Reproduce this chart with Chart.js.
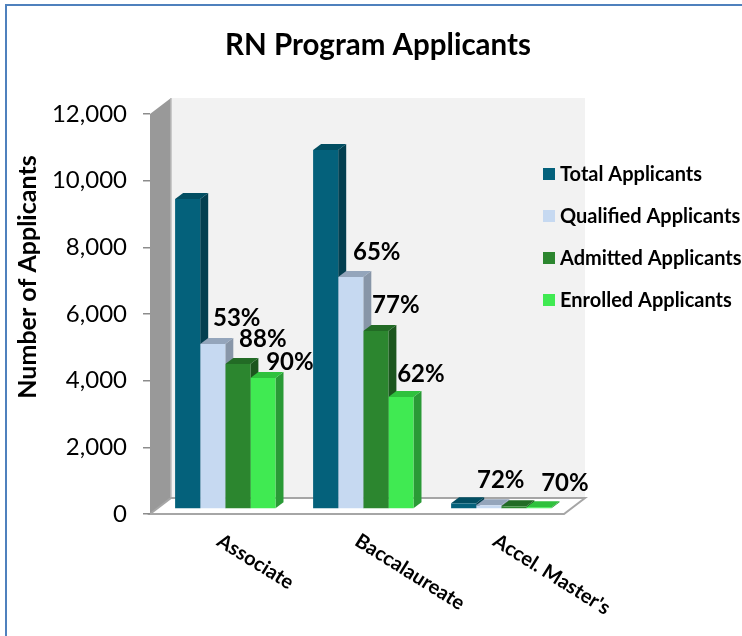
<!DOCTYPE html>
<html>
<head>
  <title>RN Program Applicants</title>
  <style>
      html, body { margin: 0; padding: 0; background: #fff; }
      canvas { display: block; }
  </style>
</head>
<body>
  <canvas id="applicantsChart" width="742" height="636"></canvas>
  <script src="https://cdn.jsdelivr.net/npm/chart.js"></script>
  <script>
      const categories = ['Associate', 'Baccalaureate', "Accel. Master's"];
      const totalApplicants = [9300, 10770, 170];
      const qualifiedApplicants = [4950, 6960, 110];
      const admittedApplicants = [4350, 5340, 80];
      const enrolledApplicants = [3930, 3360, 55];
      const qualifiedPct = ['53%', '65%', '72%'];
      const admittedPct = ['88%', '77%', null];
      const enrolledPct = ['90%', '62%', '70%'];

      const fontName = 'Lato, sans-serif';
      // bars sit a little behind the front axis
      const barShiftX = 6.3, barShiftY = -5;
      const depthX = 8, depthY = 6;
      // wall geometry follows the scale, wall is pushed back by this much
      const wallX = 21, wallY = 16;

      // colours: front, top, side
      const shades = [
          ['#04617b', '#024e62', '#033f50'],
          ['#c6d9f1', '#94a5bb', '#8896a8'],
          ['#2c862f', '#226b25', '#1c561e'],
          ['#40ea52', '#2fc13d', '#2a9a36']
      ];

      // how far each percent label sits from the top of its bar
      const pctOffsets = {
          1: [[24, -26], [26, -25], [12, -25]],
          2: [[25, -25], [20, -26], [0, 0]],
          3: [[27, -16], [20, -23], [26, -24]]
      };
      const pctTexts = { 1: qualifiedPct, 2: admittedPct, 3: enrolledPct };

      function poly(ctx, pts, color) {
          ctx.fillStyle = color;
          ctx.beginPath();
          pts.forEach((p, i) => i ? ctx.lineTo(p[0], p[1]) : ctx.moveTo(p[0], p[1]));
          ctx.closePath();
          ctx.fill();
      }

      const scenePlugin = {
          id: 'scene',
          beforeDraw(chart) {
              const { ctx, chartArea: a } = chart;
              ctx.save();
              // frame
              ctx.strokeStyle = '#4f81bd';
              ctx.lineWidth = 2;
              ctx.beginPath();
              ctx.moveTo(6, 636);
              ctx.lineTo(6, 5);
              ctx.lineTo(742, 5);
              ctx.stroke();
              // back wall
              poly(ctx, [[a.left + wallX, a.top - wallY], [a.right + wallX, a.top - wallY],
                  [a.right + wallX, a.bottom - wallY], [a.left + wallX, a.bottom - wallY]], '#f2f2f2');
              // side wall
              poly(ctx, [[a.left, a.top], [a.left + wallX, a.top - wallY],
                  [a.left + wallX, a.bottom - wallY], [a.left, a.bottom]], '#999999');
              ctx.strokeStyle = '#bdbdbd';
              ctx.lineWidth = 1.5;
              ctx.beginPath();
              ctx.moveTo(a.left + wallX, a.top - wallY);
              ctx.lineTo(a.left + wallX, a.bottom - wallY);
              ctx.stroke();
              // floor
              poly(ctx, [[a.left, a.bottom], [a.left + wallX, a.bottom - wallY],
                  [a.right + wallX, a.bottom - wallY], [a.right, a.bottom]], '#ffffff');
              ctx.strokeStyle = '#a6a6a6';
              ctx.lineWidth = 2;
              ctx.beginPath();
              ctx.moveTo(a.left, a.bottom);
              ctx.lineTo(a.left + wallX, a.bottom - wallY);
              ctx.lineTo(a.right + wallX, a.bottom - wallY);
              ctx.lineTo(a.right, a.bottom);
              ctx.closePath();
              ctx.stroke();
              ctx.restore();
          },
          beforeDatasetsDraw(chart) {
              const ctx = chart.ctx;
              ctx.save();
              ctx.translate(barShiftX, barShiftY);
              // sides and tops first, the fronts from the library then cover them
              categories.forEach((c, i) => {
                  chart.data.datasets.forEach((ds, d) => {
                      const bar = chart.getDatasetMeta(d).data[i];
                      const l = bar.x - bar.width / 2, r = bar.x + bar.width / 2;
                      poly(ctx, [[r, bar.y], [r + depthX, bar.y - depthY],
                          [r + depthX, bar.base - depthY], [r, bar.base]], shades[d][2]);
                      poly(ctx, [[l, bar.y], [l + depthX, bar.y - depthY],
                          [r + depthX, bar.y - depthY], [r, bar.y]], shades[d][1]);
                  });
              });
          },
          afterDatasetsDraw(chart) {
              const ctx = chart.ctx;
              ctx.restore();
              ctx.save();
              ctx.fillStyle = '#000';
              ctx.textBaseline = 'middle';

              // percent labels
              ctx.font = 'bold 24px ' + fontName;
              ctx.textAlign = 'center';
              Object.keys(pctTexts).forEach(d => {
                  pctTexts[d].forEach((txt, i) => {
                      if (!txt) return;
                      const bar = chart.getDatasetMeta(d).data[i];
                      ctx.fillText(txt, bar.x + barShiftX + pctOffsets[d][i][0], bar.y + barShiftY + pctOffsets[d][i][1]);
                  });
              });

              // title
              ctx.font = 'bold 29.5px ' + fontName;
              ctx.fillText('RN Program Applicants', 378, 45);

              // y axis title
              ctx.save();
              ctx.translate(28, 277);
              ctx.rotate(-Math.PI / 2);
              ctx.font = 'bold 25px ' + fontName;
              ctx.fillText('Number of Applicants', 0, 0);
              ctx.restore();

              // category labels
              const xScale = chart.scales.x;
              ctx.font = 'bold 20px ' + fontName;
              ctx.textAlign = 'left';
              categories.forEach((c, i) => {
                  ctx.save();
                  ctx.translate(xScale.getPixelForTick(i), 539);
                  ctx.rotate(32 * Math.PI / 180);
                  ctx.fillText(c, 0, 0);
                  ctx.restore();
              });

              // legend
              ctx.font = 'bold 20px ' + fontName;
              chart.data.datasets.forEach((ds, d) => {
                  const y = 174 + d * 42;
                  ctx.fillStyle = shades[d][0];
                  ctx.fillRect(543, y - 6, 12, 12);
                  ctx.fillStyle = '#000';
                  ctx.fillText(ds.label, 560, y + 1);
              });
              ctx.restore();
          }
      };

      function makeDataset(label, values, d) {
          return { label: label, data: values, backgroundColor: shades[d][0], borderWidth: 0, clip: false };
      }

      new Chart(document.getElementById('applicantsChart'), {
          type: 'bar',
          data: {
              labels: categories,
              datasets: [
                  makeDataset('Total Applicants', totalApplicants, 0),
                  makeDataset('Qualified Applicants', qualifiedApplicants, 1),
                  makeDataset('Admitted Applicants', admittedApplicants, 2),
                  makeDataset('Enrolled Applicants', enrolledApplicants, 3)
              ]
          },
          plugins: [scenePlugin],
          options: {
              responsive: false,
              animation: false,
              layout: { padding: { top: 114, right: 178, left: 0, bottom: 0 } },
              plugins: { legend: { display: false }, title: { display: false }, tooltip: { enabled: false } },
              datasets: { bar: { barPercentage: 1, categoryPercentage: 0.7275 } },
              scales: {
                  x: {
                      grid: { display: false },
                      border: { display: false },
                      ticks: { display: false },
                      afterFit: s => { s.height = 122; }
                  },
                  y: {
                      min: 0,
                      max: 12000,
                      afterFit: s => { s.width = 150; },
                      border: { display: false },
                      grid: { drawOnChartArea: false, drawTicks: true, tickLength: 7, color: '#8c8c8c', lineWidth: 1.5 },
                      ticks: {
                          stepSize: 2000,
                          padding: 16,
                          color: '#000',
                          font: { family: fontName, size: 24 },
                          callback: v => v.toLocaleString('en-US')
                      }
                  }
              }
          }
      });
  </script>
</body>
</html>
